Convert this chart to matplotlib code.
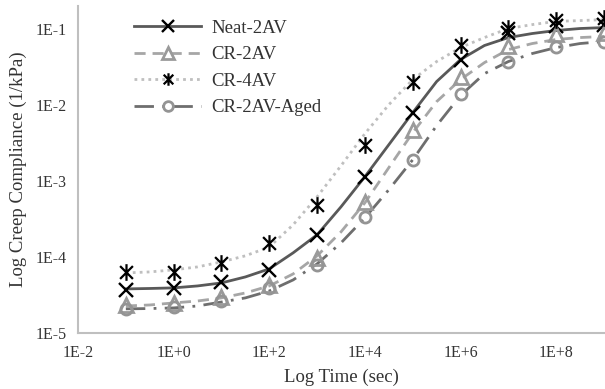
import numpy as np
import matplotlib
matplotlib.use('Agg')
import matplotlib.pyplot as plt
from matplotlib.lines import Line2D
from matplotlib.path import Path

plt.rcParams['font.family'] = ['Liberation Serif', 'DejaVu Serif']

# measured times (sec) and compliance (1/kPa)
t_data = [1e-1, 1e0, 1e1, 1e2, 1e3, 1e4, 1e5, 1e6, 1e7, 1e8, 1e9]
neat_2av = [3.7e-5, 3.9e-5, 4.7e-5, 6.8e-5, 1.97e-4, 1.15e-3, 8.0e-3, 4.0e-2, 9.1e-2, 0.11, 0.115]
cr_2av = [2.35e-5, 2.5e-5, 3.0e-5, 4.3e-5, 9.8e-5, 5.4e-4, 4.8e-3, 2.4e-2, 6.0e-2, 8.6e-2, 9.0e-2]
cr_4av = [6.4e-5, 6.4e-5, 8.4e-5, 1.54e-4, 4.9e-4, 3.0e-3, 2.06e-2, 6.3e-2, 0.106, 0.135, 0.14]
cr_2av_aged = [2.1e-5, 2.2e-5, 2.6e-5, 3.9e-5, 7.9e-5, 3.4e-4, 1.92e-3, 1.43e-2, 3.7e-2, 5.8e-2, 6.9e-2]

# fitted curves, every half decade
t_fit = [1e-1, 3.16e-1, 1e0, 3.16e0, 1e1, 3.16e1, 1e2, 3.16e2, 1e3, 3.16e3, 1e4,
         3.16e4, 1e5, 3.16e5, 1e6, 3.16e6, 1e7, 3.16e7, 1e8, 3.16e8, 1e9]
neat_fit = [3.81e-5, 3.86e-5, 3.93e-5, 4.17e-5, 4.57e-5, 5.48e-5, 7.0e-5, 1.14e-4, 1.97e-4, 4.6e-4, 1.15e-3,
            3.03e-3, 8.02e-3, 2.06e-2, 4.02e-2, 6.15e-2, 7.83e-2, 8.85e-2, 9.7e-2, 0.103, 0.106]
cr2_fit = [2.27e-5, 2.34e-5, 2.49e-5, 2.64e-5, 2.9e-5, 3.37e-5, 4.17e-5, 6.01e-5, 1.04e-4, 2.15e-4, 5.2e-4,
           1.51e-3, 4.37e-3, 1.12e-2, 2.19e-2, 3.66e-2, 5.44e-2, 6.53e-2, 7.38e-2, 7.83e-2, 8.09e-2]
cr4_fit = [6.19e-5, 6.38e-5, 6.79e-5, 7.43e-5, 8.65e-5, 1.04e-4, 1.36e-4, 2.67e-4, 6.23e-4, 1.6e-3, 4.24e-3,
           1.02e-2, 2.19e-2, 3.78e-2, 5.78e-2, 7.83e-2, 0.103, 0.116, 0.128, 0.131, 0.135]
aged_fit = [2.08e-5, 2.1e-5, 2.14e-5, 2.27e-5, 2.56e-5, 2.9e-5, 3.58e-5, 5.01e-5, 8.15e-5, 1.54e-4, 3.3e-4,
            7.73e-4, 1.92e-3, 5.41e-3, 1.35e-2, 2.62e-2, 3.78e-2, 4.82e-2, 5.78e-2, 6.53e-2, 6.95e-2]

labels = ['Neat-2AV', 'CR-2AV', 'CR-4AV', 'CR-2AV-Aged']
xticks = [1e-2, 1e0, 1e2, 1e4, 1e6, 1e8]
xticklabels = ['1E-2', '1E+0', '1E+2', '1E+4', '1E+6', '1E+8']
yticks = [1e-5, 1e-4, 1e-3, 1e-2, 1e-1]
yticklabels = ['1E-5', '1E-4', '1E-3', '1E-2', '1E-1']

# asterisk marker: x with a vertical bar
star = Path([(-1, -1), (1, 1), (-1, 1), (1, -1), (0, -1.3), (0, 1.3)],
            [Path.MOVETO, Path.LINETO, Path.MOVETO, Path.LINETO, Path.MOVETO, Path.LINETO])

fig = plt.figure(figsize=(6.05, 3.89), dpi=100)
ax = fig.add_axes([0.129, 0.144, 0.871, 0.841])

c_neat = '#595959'
c_cr2 = '#A6A6A6'
c_cr4 = '#BFBFBF'
c_aged = '#6E6E6E'
c_tri = '#9A9A9A'
c_circ = '#949494'

ax.plot(t_fit, neat_fit, color=c_neat, lw=2, ls='-')
ax.plot(t_fit, cr2_fit, color=c_cr2, lw=2, ls=(0, (4, 2.5)))
ax.plot(t_fit, cr4_fit, color=c_cr4, lw=2, ls=(0, (1, 1.5)))
ax.plot(t_fit, aged_fit, color=c_aged, lw=2, ls=(0, (7, 3, 1, 3)))

ax.plot(t_data, neat_2av, ls='none', marker='x', ms=10.5, mew=1.7, color='black')
ax.plot(t_data, cr_2av, ls='none', marker='^', ms=10, mew=2, mfc='none', mec=c_tri)
ax.plot(t_data, cr_4av, ls='none', marker=star, ms=12, mew=1.6, color='black')
ax.plot(t_data, cr_2av_aged, ls='none', marker='o', ms=8, mew=2, mfc='none', mec=c_circ)

ax.set_xscale('log')
ax.set_yscale('log')
ax.set_xlim(1e-2, 1.05e9)
ax.set_ylim(1e-5, 0.205)
ax.set_xticks(xticks)
ax.set_xticklabels(xticklabels)
ax.set_yticks(yticks)
ax.set_yticklabels(yticklabels)
ax.minorticks_off()
ax.tick_params(axis='both', length=0, labelsize=11.5, colors='#333333')
ax.tick_params(axis='x', pad=9)
ax.tick_params(axis='y', pad=8)
for s in ['top', 'right']:
    ax.spines[s].set_visible(False)
for s in ['left', 'bottom']:
    ax.spines[s].set_color('#BFBFBF')
    ax.spines[s].set_linewidth(1.5)

ax.set_xlabel('Log Time (sec)', fontsize=13.5, color='#333333', labelpad=5)
ax.set_ylabel('Log Creep Compliance (1/kPa)', fontsize=13.5, color='#333333', labelpad=6)

handles = [
    Line2D([], [], color=c_neat, lw=2, ls='-', marker='x', ms=8.5, mew=1.7, mec='black'),
    Line2D([], [], color=c_cr2, lw=2, ls=(0, (4, 2.5)), marker='^', ms=8, mew=2, mfc='white', mec=c_tri),
    Line2D([], [], color=c_cr4, lw=2, ls=(0, (1, 1.5)), marker=star, ms=9, mew=1.6, mec='black'),
    Line2D([], [], color=c_aged, lw=2, ls=(0, (7, 3, 1, 3)), marker='o', ms=7, mew=2, mfc='white', mec=c_circ),
]
leg = ax.legend(handles, labels, loc='upper left', bbox_to_anchor=(0.074, 1.01), frameon=False,
                fontsize=13.5, handlelength=3.6, handletextpad=0.55, labelspacing=0.5)
for txt in leg.get_texts():
    txt.set_color('#333333')

plt.savefig('out.png', dpi=100)
